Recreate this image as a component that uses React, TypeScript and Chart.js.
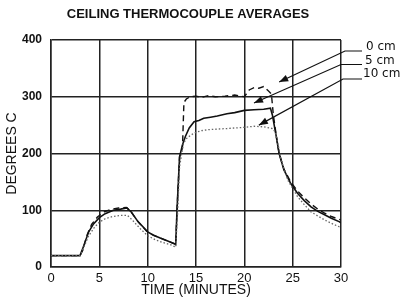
import { useEffect, useRef } from "react";
import { Chart, registerables } from "chart.js";

Chart.register(...registerables);

const chartTitle = "CEILING THERMOCOUPLE AVERAGES";
const xTitle = "TIME (MINUTES)";
const yTitle = "DEGREES C";
const seriesLabels = ["0 cm", "5 cm", "10 cm"];

// 0 cm (dashed)
const time0 = [0, 3.0, 3.3, 3.7, 4.2, 4.8, 5.5, 6.3, 7.0, 7.8, 8.3, 9.0, 9.9, 10.6, 11.3, 12.2, 12.9, 13.05, 13.3, 13.6, 13.75, 14.0, 14.4, 15.0, 15.6, 16.3, 17.0, 18.0, 19.0, 20.0, 20.5, 21.0, 21.5, 22.0, 22.5, 22.8, 23.0, 23.3, 23.6, 24.1, 24.8, 25.5, 26.2, 26.9, 27.6, 28.3, 29.0, 29.8, 30];
const temp0 = [20, 20, 30, 55, 75, 88, 97, 102, 104, 105, 97, 80, 63, 56, 51, 45, 40, 106, 194, 210, 290, 296, 300, 301, 299, 302, 300, 301, 303, 300, 312, 316, 315, 318, 310, 305, 268, 232, 200, 172, 150, 134, 122, 111, 102, 95, 89, 84, 83];

// 5 cm (solid)
const time5 = [0, 3.0, 3.4, 3.9, 4.4, 5.0, 5.6, 6.45, 7.2, 7.85, 8.3, 9.0, 10.0, 10.6, 11.3, 12.2, 12.9, 13.05, 13.3, 13.6, 13.9, 14.3, 14.8, 15.3, 15.8, 16.5, 17.2, 18.2, 19.0, 20.0, 21.0, 22.0, 22.7, 22.9, 23.3, 23.6, 24.1, 24.8, 25.5, 26.2, 26.9, 27.6, 28.3, 29.0, 29.8, 30];
const temp5 = [20, 20, 38, 62, 76, 87, 94, 100, 102, 104, 97, 80, 62, 56, 51, 45, 40, 106, 194, 215, 230, 245, 256, 258, 262, 264, 266, 270, 272, 276, 277, 278, 280, 268, 230, 200, 171, 147, 130, 117, 106, 98, 92, 86, 80, 78];

// 10 cm (dotted)
const time10 = [0, 3.0, 3.4, 3.9, 4.5, 5.0, 5.6, 6.4, 7.2, 7.9, 8.4, 9.2, 10.0, 10.8, 11.6, 12.4, 12.9, 13.1, 13.3, 13.7, 14.1, 14.8, 15.5, 16.3, 17.2, 18.2, 19.0, 20.0, 21.0, 22.0, 22.6, 22.9, 23.2, 23.5, 23.8, 24.5, 25.5, 26.2, 26.9, 27.6, 28.3, 29.0, 29.8, 30];
const temp10 = [20, 20, 35, 55, 70, 79, 85, 89, 91, 91, 83, 68, 55, 48, 43, 39, 35, 95, 177, 218, 228, 236, 240, 242, 243, 244, 245, 246, 248, 247, 245, 244, 238, 215, 188, 153, 124, 110, 97, 90, 83, 77, 71, 70];

// where each callout arrow points, in data units
const arrowTipTime = [23.6, 21.0, 21.5];
const arrowTipTemp = [326, 289, 250];

const toPoints = (t: number[], v: number[]) => t.map((x, i) => ({ x, y: v[i] }));

const decorPlugin = {
  id: "decor",
  afterDraw(chart: any) {
    const { ctx, chartArea, scales } = chart;
    const xs = scales.x;
    const ys = scales.y;
    ctx.save();
    // title
    ctx.fillStyle = "#111";
    ctx.font = "bold 13px 'Liberation Sans', Arial, sans-serif";
    ctx.textAlign = "center";
    ctx.textBaseline = "middle";
    ctx.fillText(chartTitle, (chartArea.left + chartArea.right) / 2 - 8, 14);

    // callouts
    const R = chartArea.right;
    const T = chartArea.top;
    const lineEnd = [R + 21, R + 21, R + 21];
    const elbowX = [R + 4, R + 0, R + 2];
    const rowY = [T + 11, T + 24.5, T + 39];
    const textX = [R + 25, R + 24, R + 22];
    const textY = [T + 7, T + 21, T + 34];
    ctx.strokeStyle = "#111";
    ctx.lineWidth = 1.2;
    ctx.font = "12px 'DejaVu Sans', sans-serif";
    ctx.textAlign = "left";
    for (let i = 0; i < seriesLabels.length; i++) {
      const tx = xs.getPixelForValue(arrowTipTime[i]);
      const ty = ys.getPixelForValue(arrowTipTemp[i]);
      ctx.beginPath();
      ctx.moveTo(lineEnd[i], rowY[i]);
      ctx.lineTo(elbowX[i], rowY[i]);
      ctx.lineTo(tx, ty);
      ctx.stroke();
      const a = Math.atan2(ty - rowY[i], tx - elbowX[i]);
      const L = 9, W = 3.5;
      const bx = tx - L * Math.cos(a);
      const by = ty - L * Math.sin(a);
      ctx.beginPath();
      ctx.moveTo(tx, ty);
      ctx.lineTo(bx + W * Math.sin(a), by - W * Math.cos(a));
      ctx.lineTo(bx - W * Math.sin(a), by + W * Math.cos(a));
      ctx.closePath();
      ctx.fill();
      ctx.fillText(seriesLabels[i], textX[i], textY[i]);
    }
    ctx.restore();
  },
};

export default function App() {
  const ref = useRef<HTMLCanvasElement | null>(null);
  useEffect(() => {
    if (!ref.current) return;
    const chart = new Chart(ref.current, {
      type: "line",
      data: {
        datasets: [
          {
            label: seriesLabels[2],
            data: toPoints(time10, temp10),
            borderColor: "#666",
            borderWidth: 1.3,
            borderDash: [1.5, 2],
            pointRadius: 0,
            tension: 0,
            fill: false,
          },
          {
            label: seriesLabels[1],
            data: toPoints(time5, temp5),
            borderColor: "#111",
            borderWidth: 1.6,
            pointRadius: 0,
            tension: 0,
            fill: false,
          },
          {
            label: seriesLabels[0],
            data: toPoints(time0, temp0),
            borderColor: "#111",
            borderWidth: 1.4,
            borderDash: [6, 4],
            pointRadius: 0,
            tension: 0,
            fill: false,
          },
        ],
      },
      options: {
        animation: false,
        responsive: false,
        devicePixelRatio: 1,
        layout: { padding: { top: 40, right: 63, left: 0, bottom: 0 } },
        plugins: {
          legend: { display: false },
          title: { display: false },
          tooltip: { enabled: false },
        },
        scales: {
          x: {
            type: "linear",
            min: 0,
            max: 30,
            ticks: {
              stepSize: 5,
              color: "#111",
              padding: 4,
              font: { size: 13, family: "'Liberation Sans', Arial, sans-serif" },
            },
            grid: { color: "#222", lineWidth: 1.5, drawTicks: false },
            border: { display: true, color: "#222", width: 1.5 },
            title: {
              display: true,
              text: xTitle,
              color: "#111",
              font: { size: 14, family: "'Liberation Sans', Arial, sans-serif" },
              padding: { top: 0, bottom: 1 },
            },
            afterFit: (s: any) => {
              s.height = 33;
            },
          },
          y: {
            type: "linear",
            min: 0,
            max: 400,
            ticks: {
              stepSize: 100,
              color: "#111",
              padding: 9,
              font: { size: 12, weight: "bold", family: "'Liberation Sans', Arial, sans-serif" },
            },
            grid: { color: "#222", lineWidth: 1.5, drawTicks: false },
            border: { display: true, color: "#222", width: 1.5 },
            title: {
              display: true,
              text: yTitle,
              color: "#111",
              font: { size: 14, family: "'Liberation Sans', Arial, sans-serif" },
              padding: { top: 4, bottom: 0 },
            },
            afterFit: (s: any) => {
              s.width = 51;
            },
          },
        },
      },
      plugins: [decorPlugin],
    });
    return () => chart.destroy();
  }, []);
  return (
    <div style={{ position: "fixed", left: 0, top: 0, width: 404, height: 300, background: "#fff" }}>
      <canvas ref={ref} width={404} height={300} style={{ width: 404, height: 300, display: "block" }} />
    </div>
  );
}
